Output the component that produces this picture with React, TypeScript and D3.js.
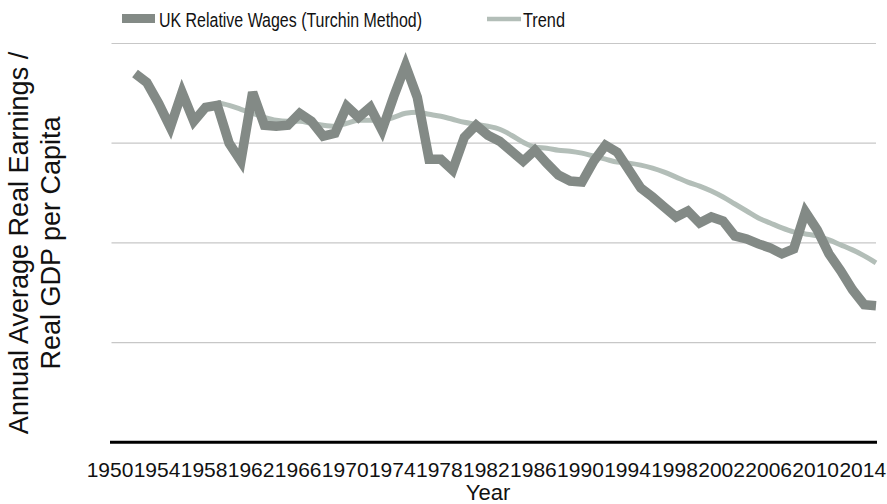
import React from "react";
import * as d3 from "d3";

const wageYears: number[] = d3.range(1952, 2016);
const wageValues: number[] = [
  3.70, 3.61, 3.40, 3.16, 3.51, 3.22, 3.36, 3.38, 3.00, 2.82,
  3.51, 3.18, 3.17, 3.18, 3.30, 3.22, 3.07, 3.10, 3.37, 3.26,
  3.36, 3.13, 3.47, 3.78, 3.46, 2.84, 2.84, 2.73, 3.06, 3.18,
  3.08, 3.02, 2.92, 2.82, 2.93, 2.80, 2.68, 2.62, 2.61, 2.82,
  2.98, 2.91, 2.73, 2.55, 2.46, 2.36, 2.26, 2.32, 2.20, 2.26,
  2.22, 2.07, 2.04, 1.99, 1.95, 1.89, 1.94, 2.31, 2.13, 1.89,
  1.72, 1.53, 1.38, 1.37,
];

const trendYears: number[] = d3.range(1959, 2016);
const trendValues: number[] = [
  3.41, 3.38, 3.34, 3.30, 3.26, 3.23, 3.22, 3.22, 3.20, 3.18,
  3.17, 3.20, 3.23, 3.23, 3.23, 3.26, 3.30, 3.31, 3.29, 3.27,
  3.24, 3.21, 3.19, 3.17, 3.14, 3.08, 3.01, 2.96, 2.95, 2.93,
  2.92, 2.90, 2.87, 2.84, 2.81, 2.80, 2.78, 2.75, 2.71, 2.66,
  2.61, 2.57, 2.52, 2.46, 2.39, 2.32, 2.25, 2.20, 2.15, 2.11,
  2.09, 2.07, 2.03, 1.98, 1.93, 1.87, 1.80,
];

const tickYears: number[] = d3.range(1950, 2015, 4);
const gridValues: number[] = [1, 2, 3, 4];

const seriesNames = ["UK Relative Wages (Turchin Method)", "Trend"];
const yTitleLines = ["Annual Average Real Earnings /", "Real GDP per Capita"];
const xTitle = "Year";

const W = 887;
const H = 504;
const FONT = "'Liberation Sans', Arial, Helvetica, sans-serif";
const WAGE_COLOR = "#838a86";
const TREND_COLOR = "#b3beb8";

export default function App() {
  const x = d3.scaleLinear().domain([1950, 2015]).range([111.5, 876]);
  const y = d3.scaleLinear().domain([0, 4]).range([442.3, 43.5]);

  const wageLine = d3
    .line<number>()
    .x((_, i) => x(wageYears[i]))
    .y((d) => y(d));
  const trendLine = d3
    .line<number>()
    .x((_, i) => x(trendYears[i]))
    .y((d) => y(d))
    .curve(d3.curveMonotoneX);

  const x0 = x.range()[0];
  const x1 = x.range()[1];

  return (
    <svg
      width={W}
      height={H}
      style={{ position: "absolute", left: 0, top: 0, background: "#fff" }}
      fontFamily={FONT}
    >
      <rect width={W} height={H} fill="#fff" />
      {gridValues.map((g) => (
        <line
          key={g}
          x1={x0}
          x2={x1}
          y1={y(g)}
          y2={y(g)}
          stroke="#c7c7c7"
          strokeWidth={1.2}
        />
      ))}
      <line x1={x0 - 1.5} x2={x1 + 1} y1={y(0)} y2={y(0)} stroke="#000" strokeWidth={3} />

      <path
        d={trendLine(trendValues) || ""}
        fill="none"
        stroke={TREND_COLOR}
        strokeWidth={5}
        strokeLinejoin="round"
      />
      <path
        d={wageLine(wageValues) || ""}
        fill="none"
        stroke={WAGE_COLOR}
        strokeWidth={9.5}
        strokeLinejoin="miter"
        strokeMiterlimit={3}
      />

      {tickYears.map((t) => (
        <text
          key={t}
          x={x(t) - 1.5}
          y={476.5}
          fontSize={21}
          textAnchor="middle"
          fill="#111"
        >
          {t}
        </text>
      ))}
      <text x={488} y={500} fontSize={22} textAnchor="middle" fill="#111">
        {xTitle}
      </text>

      {yTitleLines.map((l, i) => (
        <text
          key={l}
          transform={`translate(${28 + i * 32}, 243) rotate(-90)`}
          fontSize={27}
          textAnchor="middle"
          fill="#111"
        >
          {l}
        </text>
      ))}

      {/* legend */}
      <line x1={122} x2={155} y1={18.5} y2={18.5} stroke={WAGE_COLOR} strokeWidth={9} />
      <text
        x={159}
        y={27}
        fontSize={20.5}
        fill="#111"
        textLength={263}
        lengthAdjust="spacingAndGlyphs"
      >
        {seriesNames[0]}
      </text>
      <line x1={487} x2={521} y1={19} y2={19} stroke={TREND_COLOR} strokeWidth={4.5} />
      <text
        x={523}
        y={27}
        fontSize={20.5}
        fill="#111"
        textLength={42}
        lengthAdjust="spacingAndGlyphs"
      >
        {seriesNames[1]}
      </text>
    </svg>
  );
}
